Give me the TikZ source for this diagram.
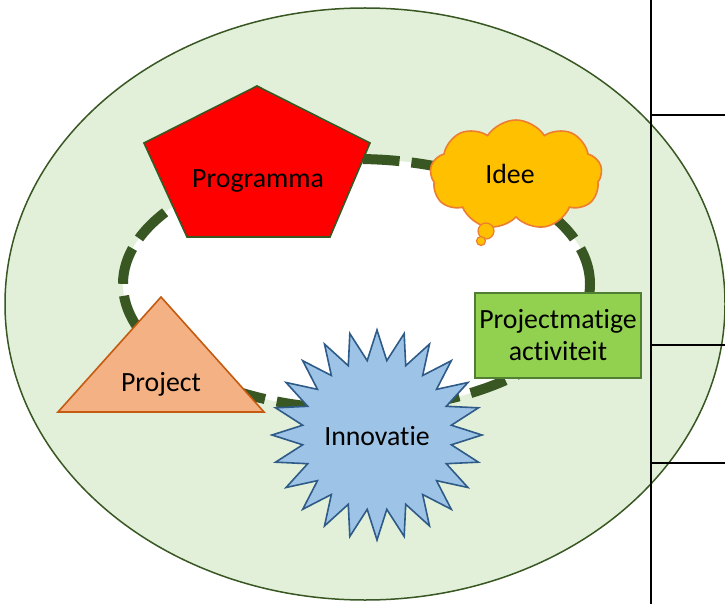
\documentclass[tikz,border=0pt]{standalone}
\usepackage{fontspec}
\setmainfont{Carlito}[Ligatures=NoCommon]
\usetikzlibrary{shapes.geometric,shapes.symbols}
\definecolor{bggreen}{HTML}{E2F0D9}
\definecolor{ringgreen}{HTML}{385723}
\definecolor{rectgreen}{HTML}{92D050}
\definecolor{rectborder}{HTML}{507E32}
\definecolor{ideeorange}{HTML}{FFC000}
\definecolor{orangeline}{HTML}{ED7D31}
\definecolor{projfill}{HTML}{F4B183}
\definecolor{projline}{HTML}{C55A11}
\definecolor{starblue}{HTML}{9DC3E6}
\definecolor{starline}{HTML}{2E5B88}
\tikzset{
  lbl/.style={font=\fontsize{27.8}{32}\selectfont, inner sep=0pt},
  tableline/.style={black, line width=1.6pt},
  shapeline/.style={line width=1.6pt},
}
\begin{document}
\begin{tikzpicture}[x=1pt,y=-1pt]
\useasboundingbox (0,0) rectangle (725,604);
% outer ellipse
\filldraw[fill=bggreen, draw=ringgreen, line width=1.5pt] (365,304) ellipse [x radius=360pt, y radius=296pt];
% table lines
\coordinate (vt) at (651,0);
\coordinate (vb) at (651,604);
\draw[tableline] (vt) -- (vb);
\draw[tableline] (651,115) -- (725,115);
\draw[tableline] (651,345) -- (725,345);
\draw[tableline] (651,463) -- (725,463);
% inner dashed ring
\draw[fill=white, draw=ringgreen, line width=10pt, dash pattern=on 37pt off 12pt] (356.5,284) ellipse [x radius=233.5pt, y radius=125pt];
% pentagon
\draw[shapeline, fill=red, draw=ringgreen] (257,86) -- (370,143) -- (330,237) -- (187,237) -- (144,143) -- cycle;
\node[lbl] (prog) at (258,181) {Programma};
% cloud
\node[cloud, cloud puffs=9, cloud puff arc=115, aspect=1.6, fill=ideeorange, draw=orangeline, shapeline, minimum width=172pt, minimum height=110pt, inner sep=0pt] (ideecloud) at (516,175) {};
\draw[fill=ideeorange, draw=orangeline, line width=1.2pt] (486,231) circle (8pt);
\draw[fill=ideeorange, draw=orangeline, line width=1.2pt] (481,241) circle (4.5pt);
\node[lbl] (idee) at (510,174) {Idee};
% rectangle
\node[lbl, draw=rectborder, fill=rectgreen, shapeline, minimum width=166pt, minimum height=85pt, align=center] (pa) at (558,335.5) {Projectmatige\\activiteit};
% star
\node[star, star points=24, star point ratio=1.4, minimum size=210pt, inner sep=0pt, fill=starblue, draw=starline, shapeline] (innstar) at (377,435) {};
\node[lbl] (inn) at (377,436) {Innovatie};
% triangle
\draw[shapeline, fill=projfill, draw=projline] (161,297) -- (264,412) -- (58,412) -- cycle;
\node[lbl] (proj) at (161,384) {Project};
\end{tikzpicture}
\end{document}
